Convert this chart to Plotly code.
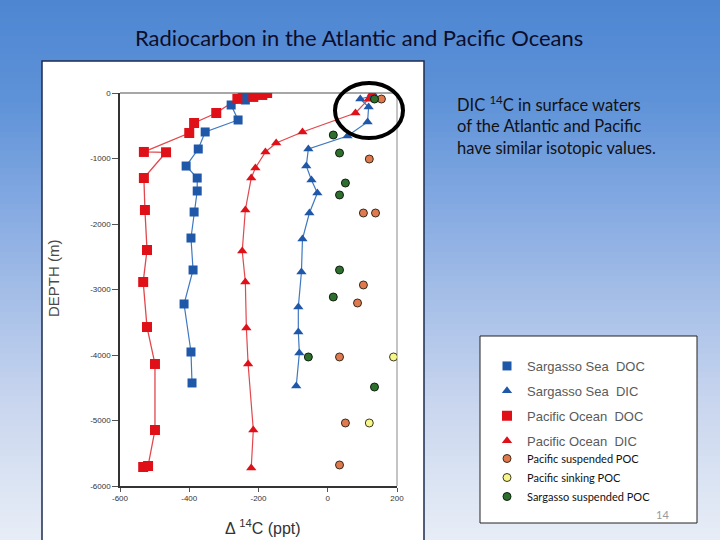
import plotly.graph_objects as go

# ---------------- data ----------------
pac_doc_x = [-175, -189, -215, -261, -322, -386, -400, -531, -467, -531, -528, -522, -533, -522, -499, -499, -519, -533]
pac_doc_y = [0, -30, -60, -90, -305, -458, -611, -900, -905, -1298, -1786, -2397, -2885, -3573, -4137, -5145, -5695, -5710]

sar_doc_x = [-204, -224, -247, -238, -279, -259, -354, -374, -409, -377, -377, -386, -395, -389, -415, -395, -392]
sar_doc_y = [-15, -15, -61, -107, -183, -412, -595, -855, -1115, -1298, -1496, -1817, -2214, -2702, -3221, -3954, -4427]

pac_dic_x = [128, 118, 80, -73, -149, -180, -209, -221, -238, -247, -238, -235, -230, -215, -221]
pac_dic_y = [-10, -95, -305, -595, -763, -900, -1145, -1298, -1786, -2412, -2885, -3588, -4137, -5145, -5725]

sar_dic_x = [129, 125, 94, 118, 115, 57, -56, -62, -47, -30, -53, -73, -76, -85, -85, -82, -91]
sar_dic_y = [0, -46, -92, -214, -443, -656, -855, -1115, -1328, -1527, -1832, -2229, -2733, -3267, -3649, -3969, -4473]

pac_susp_poc_x = [155, 120, 103, 138, 103, 86, 34, 51, 34]
pac_susp_poc_y = [-92, -1008, -1832, -1832, -2931, -3206, -4030, -5038, -5679]

pac_sink_poc_x = [190, 120]
pac_sink_poc_y = [-4030, -5038]

sar_susp_poc_x = [135, 16, 34, 51, 34, 34, 16, -56, 135]
sar_susp_poc_y = [-92, -641, -916, -1374, -1557, -2702, -3115, -4030, -4489]

x_tick_vals = [-600, -400, -200, 0, 200]
x_tick_text = ["-600", "-400", "-200", "0", "200"]
y_tick_vals = [0, -1000, -2000, -3000, -4000, -5000, -6000]
y_tick_text = ["0", "-1000", "-2000", "-3000", "-4000", "-5000", "-6000"]

series_names = ["Sargasso Sea \u00a0DOC", "Sargasso Sea \u00a0DIC", "Pacific Ocean \u00a0DOC",
                "Pacific Ocean \u00a0DIC", "Pacific suspended POC", "Pacific sinking POC",
                "Sargasso suspended POC"]

title_text = "Radiocarbon in the Atlantic and Pacific Oceans"
note_lines = ["DIC <sup>14</sup>C in surface waters", "of the Atlantic and Pacific",
              "have similar isotopic values."]

# ---------------- layout helpers ----------------
W, H = 720, 540
PL, PR, PT, PB = 120, 397, 93, 486  # plot area pixels


def px(x):
    return (x - PL) / (PR - PL)


def py(y):
    return (PB - y) / (PB - PT)


BLUE = "#1f58a8"
BLUE_LINE = "#3f78c0"
RED = "#e01019"
RED_LINE = "#e2474d"

fig = go.Figure()

# lines
fig.add_trace(go.Scatter(x=pac_doc_x, y=pac_doc_y, mode="lines", line=dict(color=RED_LINE, width=1.3),
                         showlegend=False, hoverinfo="skip"))
fig.add_trace(go.Scatter(x=sar_doc_x, y=sar_doc_y, mode="lines", line=dict(color=BLUE_LINE, width=1.2),
                         showlegend=False, hoverinfo="skip"))
fig.add_trace(go.Scatter(x=pac_dic_x, y=pac_dic_y, mode="lines", line=dict(color=RED_LINE, width=1.2),
                         showlegend=False, hoverinfo="skip"))
fig.add_trace(go.Scatter(x=sar_dic_x, y=sar_dic_y, mode="lines", line=dict(color=BLUE_LINE, width=1.2),
                         showlegend=False, hoverinfo="skip"))

# markers (legend entries)
fig.add_trace(go.Scatter(x=sar_doc_x, y=sar_doc_y, mode="markers", name=series_names[0],
                         marker=dict(symbol="square", size=9, color=BLUE), legend="legend",
                         legendgroup="a"))
fig.add_trace(go.Scatter(x=sar_dic_x, y=sar_dic_y, mode="markers", name=series_names[1],
                         marker=dict(symbol="triangle-up", size=9, color=BLUE), legend="legend",
                         legendgroup="b"))
fig.add_trace(go.Scatter(x=pac_doc_x, y=pac_doc_y, mode="markers", name=series_names[2],
                         marker=dict(symbol="square", size=10, color=RED), legend="legend",
                         legendgroup="c"))
fig.add_trace(go.Scatter(x=pac_dic_x, y=pac_dic_y, mode="markers", name=series_names[3],
                         marker=dict(symbol="triangle-up", size=9, color=RED), legend="legend",
                         legendgroup="d"))
fig.add_trace(go.Scatter(x=pac_susp_poc_x, y=pac_susp_poc_y, mode="markers", name=series_names[4],
                         marker=dict(symbol="circle", size=8, color="#e07a4e",
                                     line=dict(color="#3a2a1a", width=1)), legend="legend2"))
fig.add_trace(go.Scatter(x=pac_sink_poc_x, y=pac_sink_poc_y, mode="markers", name=series_names[5],
                         marker=dict(symbol="circle", size=8, color="#f6f68a",
                                     line=dict(color="#3a3a1a", width=1)), legend="legend2"))
fig.add_trace(go.Scatter(x=sar_susp_poc_x, y=sar_susp_poc_y, mode="markers", name=series_names[6],
                         marker=dict(symbol="circle", size=8, color="#2e6f2e",
                                     line=dict(color="#102010", width=1)), legend="legend2"))

shapes = []
# background gradient bands
stops = [(0, (78, 134, 210)), (100, (94, 146, 216)), (200, (130, 168, 225)),
         (300, (166, 191, 232)), (400, (200, 213, 238)), (540, (232, 238, 247))]


def col_at(y):
    for (y0, c0), (y1, c1) in zip(stops[:-1], stops[1:]):
        if y0 <= y <= y1:
            t = (y - y0) / (y1 - y0)
            return "rgb(%d,%d,%d)" % tuple(round(a + (b - a) * t) for a, b in zip(c0, c1))
    return "rgb(%d,%d,%d)" % stops[-1][1]


band = 6
for yb in range(0, H, band):
    shapes.append(dict(type="rect", xref="paper", yref="paper", x0=px(0), x1=px(W),
                       y0=py(yb), y1=py(yb + band + 1), fillcolor=col_at(yb + band / 2),
                       line=dict(width=0), layer="below"))

# white picture box
shapes.append(dict(type="rect", xref="paper", yref="paper", x0=px(42), x1=px(424), y0=py(61), y1=py(545),
                   fillcolor="white", line=dict(color="#1c2c50", width=1.5), layer="below"))
# top and right frame lines of the plot
shapes.append(dict(type="line", xref="paper", yref="paper", x0=0, x1=1, y0=1, y1=1,
                   line=dict(color="#8a8a8a", width=1.5), layer="below"))
shapes.append(dict(type="line", xref="paper", yref="paper", x0=1, x1=1, y0=0, y1=1,
                   line=dict(color="#8a8a8a", width=1), layer="below"))
# legend box
shapes.append(dict(type="rect", xref="paper", yref="paper", x0=px(480), x1=px(697), y0=py(336), y1=py(523),
                   fillcolor="white", line=dict(color="#222", width=1), layer="below"))
# highlight ellipse
shapes.append(dict(type="circle", xref="paper", yref="paper", x0=px(335), x1=px(403), y0=py(138), y1=py(83),
                   line=dict(color="black", width=4), layer="above"))

annotations = [
    dict(text=title_text, x=px(359), y=py(37), xref="paper", yref="paper", showarrow=False,
         xanchor="center", yanchor="middle", font=dict(family="Lato", size=22, color="#0d0d2a")),
    dict(text="DEPTH (m)", x=px(53), y=py(278), xref="paper", yref="paper", showarrow=False,
         textangle=-90, xanchor="center", yanchor="middle",
         font=dict(family="Liberation Sans", size=15, color="#4a4a4a")),
    dict(text="\u0394 <sup>14</sup>C (ppt)", x=px(263), y=py(527), xref="paper", yref="paper",
         showarrow=False, xanchor="center", yanchor="middle",
         font=dict(family="Liberation Sans", size=16, color="#333")),
    dict(text="14", x=px(671), y=py(514), xref="paper", yref="paper", showarrow=False,
         xanchor="right", yanchor="middle", font=dict(family="Lato", size=11, color="#999")),
]
for i, line in enumerate(note_lines):
    annotations.append(dict(text=line, x=px(455), y=py(104 + 22 * i), xref="paper", yref="paper",
                            showarrow=False, xanchor="left", yanchor="middle",
                            font=dict(family="Lato", size=16.5, color="#111")))

fig.update_layout(
    width=W, height=H,
    margin=dict(l=PL, r=W - PR, t=PT, b=H - PB, pad=0),
    paper_bgcolor="#9fb9e2", plot_bgcolor="white",
    shapes=shapes, annotations=annotations,
    xaxis=dict(range=[-600, 200], tickvals=x_tick_vals, ticktext=x_tick_text, showgrid=False,
               zeroline=False, showline=True, linecolor="#333", linewidth=1.5,
               ticks="outside", ticklen=4, tickcolor="#555",
               tickfont=dict(family="Liberation Sans", size=8, color="#333")),
    yaxis=dict(range=[-6000, 0], tickvals=y_tick_vals, ticktext=y_tick_text, showgrid=False,
               zeroline=False, showline=True, linecolor="#333", linewidth=1.5,
               ticks="outside", ticklen=6, tickcolor="#555",
               tickfont=dict(family="Liberation Sans", size=8, color="#333")),
    legend=dict(x=px(487), y=py(351), xanchor="left", yanchor="top", bgcolor="rgba(0,0,0,0)",
                borderwidth=0, tracegroupgap=5,
                font=dict(family="Liberation Sans", size=13, color="#5a5a5a")),
    legend2=dict(x=px(487), y=py(444), xanchor="left", yanchor="top", bgcolor="rgba(0,0,0,0)",
                 borderwidth=0, tracegroupgap=0,
                 font=dict(family="Lato", size=11, color="#111")),
)

fig.write_html("out.html", config=dict(displayModeBar=False))
